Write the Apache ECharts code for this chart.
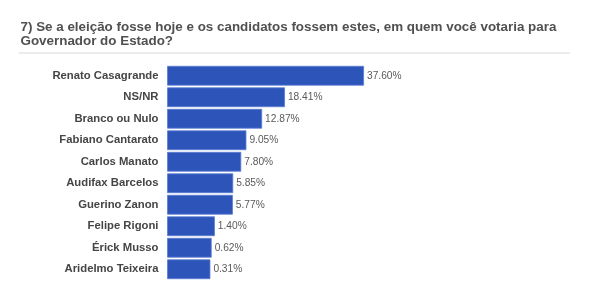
<!DOCTYPE html>
<html><head><meta charset="utf-8">
<script src="https://cdn.jsdelivr.net/npm/echarts@6/dist/echarts.min.js"></script>
<style>html,body{margin:0;padding:0;background:#fff}#c{width:590px;height:298px}</style>
</head><body><div id="c"></div>
<script>
const titleLines = ["7) Se a eleição fosse hoje e os candidatos fossem estes, em quem você votaria para", "Governador do Estado?"];
const categories = ["Renato Casagrande","NS/NR","Branco ou Nulo","Fabiano Cantarato","Carlos Manato","Audifax Barcelos","Guerino Zanon","Felipe Rigoni","Érick Musso","Aridelmo Teixeira"];
const values = [37.60, 18.41, 12.87, 9.05, 7.80, 5.85, 5.77, 1.40, 0.62, 0.31];
const valueLabels = ["37.60%","18.41%","12.87%","9.05%","7.80%","5.85%","5.77%","1.40%","0.62%","0.31%"];

const X_MIN = -10, X_MAX = 90;
const FONT = '"Liberation Sans", Arial, Helvetica, sans-serif';
const chart = echarts.init(document.getElementById('c'));
chart.setOption({
  animation: false,
  title: {
    text: titleLines.join('\n'), left: 20.5, top: 20, padding: 0,
    textStyle: { fontFamily: FONT, fontSize: 13.4, fontWeight: 'bold', color: '#505050', lineHeight: 14.5 }
  },
  graphic: [{ type: 'line', shape: { x1: 19, y1: 53, x2: 570, y2: 53 }, style: { stroke: '#e6e6e6', lineWidth: 1.5 } }],
  grid: { left: 167.5, width: 412, top: 65, height: 215, containLabel: false },
  xAxis: { type: 'value', min: X_MIN, max: X_MAX, show: false },
  yAxis: {
    type: 'category', data: categories, inverse: true,
    axisLine: { show: false }, axisTick: { show: false }, splitLine: { show: false },
    axisLabel: { margin: 9, fontFamily: FONT, fontSize: 11.3, fontWeight: 'bold', color: '#454545' }
  },
  series: [{
    type: 'custom',
    encode: { x: 0, y: 1 },
    data: values.map((v, i) => [v, i]),
    renderItem: function (params, api) {
      const i = api.value(1), v = api.value(0);
      const s = api.coord([X_MIN, i]);
      const e = api.coord([v, i]);
      const h = api.size([0, 1])[1] * 0.88;
      return {
        type: 'rect',
        shape: { x: s[0], y: s[1] - h / 2, width: e[0] - s[0], height: h },
        style: { fill: '#2c54b9', stroke: '#5b7cd4', lineWidth: 0.8 },
        textContent: { style: { text: valueLabels[i], fill: '#5a5a5a', font: '10.2px ' + FONT } },
        textConfig: { position: 'right', distance: 3 }
      };
    }
  }]
});
</script></body></html>
